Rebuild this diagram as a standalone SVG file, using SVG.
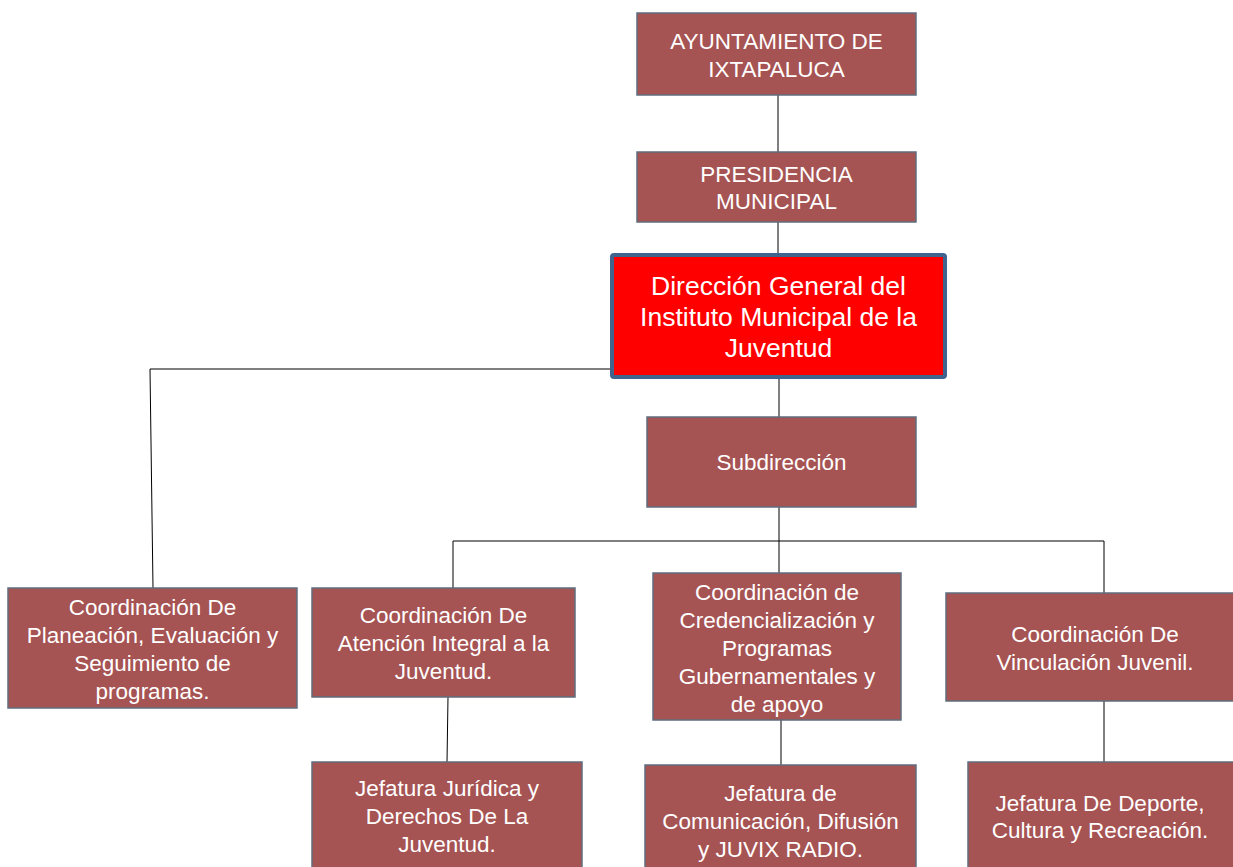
<svg xmlns="http://www.w3.org/2000/svg" width="1233" height="867" viewBox="0 0 1233 867">
<style>
.box{fill:#A65353;stroke:#5F6E7E;stroke-width:1.5}
.main{fill:#FF0000;stroke:#41648F;stroke-width:4}
.t{font-family:"Liberation Sans",Arial,sans-serif;font-size:22.5px;fill:#FFFFFF;text-anchor:middle}
.tm{font-family:"Liberation Sans",Arial,sans-serif;font-size:26.5px;fill:#FFFFFF;text-anchor:middle}
.c{stroke:#000000;stroke-width:1;fill:none}
</style>
<rect width="1233" height="867" fill="#FFFFFF"/>
<g id="connectors">
<path class="c" d="M778 95V152"/>
<path class="c" d="M778 222V253"/>
<path class="c" d="M779 378V417"/>
<path class="c" d="M611 369H150L153 588"/>
<path class="c" d="M779 507V541"/>
<path class="c" d="M453 541H1104"/>
<path class="c" d="M453 541V588"/>
<path class="c" d="M779 541V573"/>
<path class="c" d="M1104 541V593"/>
<path class="c" d="M448 697L447 762"/>
<path class="c" d="M781 720V765"/>
<path class="c" d="M1104 701V762"/>
</g>
<g id="n_ayuntamiento">
<rect class="box" x="637" y="13" width="279" height="82"/>
<text class="t" x="776.5" y="49">AYUNTAMIENTO DE</text>
<text class="t" x="776.5" y="77">IXTAPALUCA</text>
</g>
<g id="n_presidencia">
<rect class="box" x="637" y="152" width="279" height="70"/>
<text class="t" x="776.5" y="182">PRESIDENCIA</text>
<text class="t" x="776.5" y="209">MUNICIPAL</text>
</g>
<g id="n_direccion">
<rect class="main" x="612" y="255" width="333" height="122" rx="2"/>
<text class="tm" x="778.5" y="295">Dirección General del</text>
<text class="tm" x="778.5" y="326">Instituto Municipal de la</text>
<text class="tm" x="778.5" y="357">Juventud</text>
</g>
<g id="n_subdireccion">
<rect class="box" x="647" y="417" width="269" height="90"/>
<text class="t" x="781.5" y="470">Subdirección</text>
</g>
<g id="n_planeacion">
<rect class="box" x="8" y="588" width="289" height="120"/>
<text class="t" x="152.5" y="615">Coordinación De</text>
<text class="t" x="152.5" y="643">Planeación, Evaluación y</text>
<text class="t" x="152.5" y="671">Seguimiento de</text>
<text class="t" x="152.5" y="699">programas.</text>
</g>
<g id="n_atencion">
<rect class="box" x="312" y="588" width="263" height="109"/>
<text class="t" x="443.5" y="623">Coordinación De</text>
<text class="t" x="443.5" y="651">Atención Integral a la</text>
<text class="t" x="443.5" y="679">Juventud.</text>
</g>
<g id="n_credencializacion">
<rect class="box" x="653" y="573" width="248" height="147"/>
<text class="t" x="777" y="600">Coordinación de</text>
<text class="t" x="777" y="628">Credencialización y</text>
<text class="t" x="777" y="656">Programas</text>
<text class="t" x="777" y="684">Gubernamentales y</text>
<text class="t" x="777" y="712">de apoyo</text>
</g>
<g id="n_vinculacion">
<rect class="box" x="946" y="593" width="292" height="108"/>
<text class="t" x="1095" y="642">Coordinación De</text>
<text class="t" x="1095" y="670">Vinculación Juvenil.</text>
</g>
<g id="n_juridica">
<rect class="box" x="312" y="762" width="270" height="110"/>
<text class="t" x="447" y="796">Jefatura Jurídica y</text>
<text class="t" x="447" y="824">Derechos De La</text>
<text class="t" x="447" y="852">Juventud.</text>
</g>
<g id="n_comunicacion">
<rect class="box" x="645" y="765" width="271" height="107"/>
<text class="t" x="780.5" y="801">Jefatura de</text>
<text class="t" x="780.5" y="829">Comunicación, Difusión</text>
<text class="t" x="780.5" y="857">y JUVIX RADIO.</text>
</g>
<g id="n_deporte">
<rect class="box" x="968" y="762" width="270" height="110"/>
<text class="t" x="1100" y="811">Jefatura De Deporte,</text>
<text class="t" x="1100" y="838">Cultura y Recreación.</text>
</g>
</svg>
